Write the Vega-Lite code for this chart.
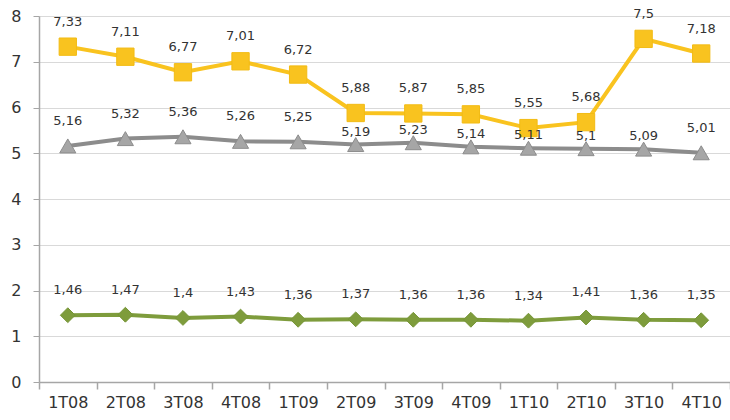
{
  "$schema": "https://vega.github.io/schema/vega-lite/v6.json",
  "width": 691,
  "height": 366,
  "autosize": {"type": "none"},
  "padding": {"left": 39, "top": 16, "right": 0, "bottom": 38},
  "background": "white",
  "config": {
    "view": {"stroke": null},
    "font": "DejaVu Sans",
    "locale": {"number": {"decimal": ",", "thousands": ".", "grouping": [3], "currency": ["", " €"]}}
  },
  "data": {
    "values": [
      {"q": "1T08", "s": "A", "v": 7.33}, {"q": "2T08", "s": "A", "v": 7.11}, {"q": "3T08", "s": "A", "v": 6.77}, {"q": "4T08", "s": "A", "v": 7.01},
      {"q": "1T09", "s": "A", "v": 6.72}, {"q": "2T09", "s": "A", "v": 5.88}, {"q": "3T09", "s": "A", "v": 5.87}, {"q": "4T09", "s": "A", "v": 5.85},
      {"q": "1T10", "s": "A", "v": 5.55}, {"q": "2T10", "s": "A", "v": 5.68}, {"q": "3T10", "s": "A", "v": 7.5}, {"q": "4T10", "s": "A", "v": 7.18},
      {"q": "1T08", "s": "B", "v": 5.16}, {"q": "2T08", "s": "B", "v": 5.32}, {"q": "3T08", "s": "B", "v": 5.36}, {"q": "4T08", "s": "B", "v": 5.26},
      {"q": "1T09", "s": "B", "v": 5.25}, {"q": "2T09", "s": "B", "v": 5.19}, {"q": "3T09", "s": "B", "v": 5.23}, {"q": "4T09", "s": "B", "v": 5.14},
      {"q": "1T10", "s": "B", "v": 5.11}, {"q": "2T10", "s": "B", "v": 5.1}, {"q": "3T10", "s": "B", "v": 5.09}, {"q": "4T10", "s": "B", "v": 5.01},
      {"q": "1T08", "s": "C", "v": 1.46}, {"q": "2T08", "s": "C", "v": 1.47}, {"q": "3T08", "s": "C", "v": 1.4}, {"q": "4T08", "s": "C", "v": 1.43},
      {"q": "1T09", "s": "C", "v": 1.36}, {"q": "2T09", "s": "C", "v": 1.37}, {"q": "3T09", "s": "C", "v": 1.36}, {"q": "4T09", "s": "C", "v": 1.36},
      {"q": "1T10", "s": "C", "v": 1.34}, {"q": "2T10", "s": "C", "v": 1.41}, {"q": "3T10", "s": "C", "v": 1.36}, {"q": "4T10", "s": "C", "v": 1.35}
    ]
  },
  "encoding": {
    "x": {
      "field": "q", "type": "ordinal", "sort": null,
      "scale": {"paddingInner": 0, "paddingOuter": 0},
      "axis": {
        "title": null, "labelAngle": 0, "labelFontSize": 16, "labelColor": "#333333",
        "tickBand": "extent", "tickSize": 7, "tickColor": "#A6A6A6", "tickWidth": 1.5,
        "domainColor": "#A6A6A6", "domainWidth": 1.5, "labelPadding": 5, "grid": false
      }
    },
    "y": {
      "field": "v", "type": "quantitative",
      "scale": {"domain": [0, 8], "nice": false},
      "axis": {
        "title": null, "values": [0, 1, 2, 3, 4, 5, 6, 7, 8], "labelFontSize": 16, "labelColor": "#333333",
        "grid": true, "gridColor": "#D9D9D9", "gridWidth": 1, "tickSize": 6, "tickColor": "#A6A6A6",
        "domainColor": "#A6A6A6", "domainWidth": 1.5, "labelPadding": 12
      }
    }
  },
  "layer": [
    {
      "mark": {"type": "line", "strokeWidth": 4},
      "encoding": {
        "color": {"field": "s", "type": "nominal", "scale": {"domain": ["A", "B", "C"], "range": ["#F9C31F", "#8C8C8C", "#7E9C3C"]}, "legend": null}
      }
    },
    {
      "mark": {"type": "point", "filled": true, "opacity": 1, "strokeWidth": 1},
      "encoding": {
        "fill": {"field": "s", "type": "nominal", "scale": {"domain": ["A", "B", "C"], "range": ["#F9C31F", "#A6A6A6", "#7E9C3C"]}, "legend": null},
        "stroke": {"field": "s", "type": "nominal", "scale": {"domain": ["A", "B", "C"], "range": ["#F2BB14", "#8C8C8C", "#769536"]}, "legend": null},
        "shape": {"field": "s", "type": "nominal", "scale": {"domain": ["A", "B", "C"], "range": ["square", "triangle-up", "diamond"]}, "legend": null},
        "size": {"field": "s", "type": "nominal", "scale": {"domain": ["A", "B", "C"], "range": [300, 220, 280]}, "legend": null}
      }
    },
    {
      "transform": [{"filter": {"not": {"and": [{"field": "s", "equal": "B"}, {"field": "q", "oneOf": ["2T09", "3T09", "4T09", "1T10", "2T10", "3T10"]}]}}}],
      "mark": {"type": "text", "dy": -25, "fontSize": 13, "color": "#333333"},
      "encoding": {"text": {"field": "v", "type": "quantitative", "format": ".2~f"}}
    },
    {
      "transform": [{"filter": {"and": [{"field": "s", "equal": "B"}, {"field": "q", "oneOf": ["2T09", "3T09", "4T09", "1T10", "2T10", "3T10"]}]}}],
      "mark": {"type": "text", "dy": -13, "fontSize": 13, "color": "#333333"},
      "encoding": {"text": {"field": "v", "type": "quantitative", "format": ".2~f"}}
    }
  ]
}
